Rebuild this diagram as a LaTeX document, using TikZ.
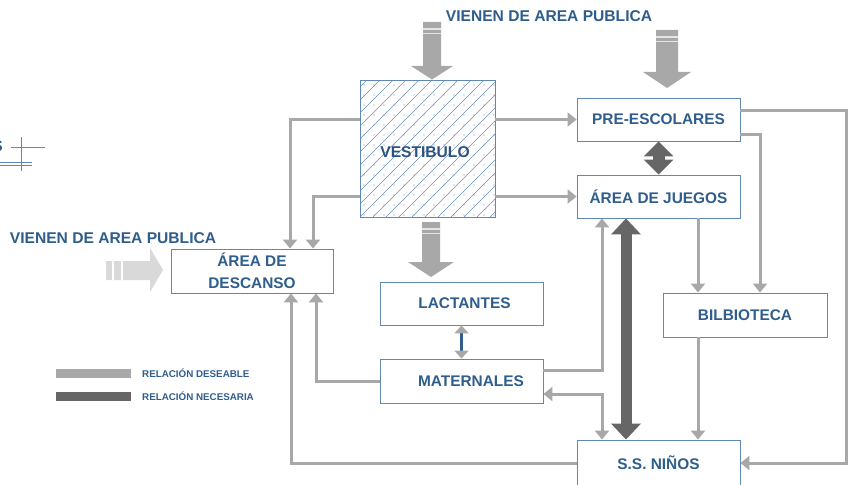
\documentclass[tikz,border=0pt]{standalone}
\usepackage{fontspec}
\setmainfont{Liberation Sans}
\usetikzlibrary{arrows.meta,calc}
\definecolor{txt}{HTML}{2F5D8C}
\definecolor{txtd}{HTML}{2A5380}
\definecolor{bord}{HTML}{6088B2}
\definecolor{hatch}{HTML}{6E90B8}
\definecolor{lg}{HTML}{A8A8A8}
\definecolor{dk}{HTML}{666666}
\definecolor{vlg}{HTML}{D9D9D9}
\begin{document}
\begin{tikzpicture}[x=1pt,y=-1pt,
  box/.style={draw=bord,line width=0.9pt,fill=white,minimum width=163pt,minimum height=43pt,inner sep=0pt,
    font=\fontsize{15.4}{22}\bfseries\selectfont,text=txt,align=center},
  lbl/.style={font=\fontsize{15.6}{18}\bfseries\selectfont,text=txt,inner sep=0pt},
  small/.style={font=\fontsize{9.8}{11}\bfseries\selectfont,text=txt,inner sep=0pt,anchor=west},
  conn/.style={draw=lg,line width=3pt,-{Triangle[width=14pt,length=9pt]}},
  conn2/.style={draw=lg,line width=3pt,{Triangle[width=14pt,length=9pt]}-{Triangle[width=14pt,length=9pt]}},
  blk/.style={fill=lg,draw=none},
  stripe/.style={draw=white,line width=1.2pt,opacity=0.7}]
\useasboundingbox (0,0) rectangle (853,484);
\fill[white] (0,0) rectangle (853,484);

% top-left fragment
\node[lbl,anchor=east] (sfrag) at (3,146) {S};
\draw[bord,line width=1pt] (21,137) -- (21,171);
\draw[bord,line width=1pt] (11,147) -- (45,147);
\draw[bord,line width=1pt] (0,162) -- (32,162);
\draw[bord,line width=1pt] (0,165.5) -- (32,165.5);

% titles
\node[lbl] (t1) at (549,16) {VIENEN DE AREA PUBLICA};
\node[lbl] (t2) at (113,238) {VIENEN DE AREA PUBLICA};

% block arrows
\fill[blk] (423,22) -- (441,22) -- (441,66) -- (453,66) -- (432,79.5) -- (411,66) -- (423,66) -- cycle;
\draw[stripe] (423,29) -- (441,29);
\draw[stripe] (423,33.5) -- (441,33.5);
\fill[blk] (656,30) -- (678,30) -- (678,72) -- (691,72) -- (667,88) -- (643,72) -- (656,72) -- cycle;
\draw[stripe] (656,37) -- (678,37);
\draw[stripe] (656,41.5) -- (678,41.5);
\fill[blk] (422,222) -- (440,222) -- (440,262) -- (454,262) -- (431,277) -- (408,262) -- (422,262) -- cycle;
\draw[stripe] (422,229) -- (440,229);
\draw[stripe] (422,233.5) -- (440,233.5);
\fill[vlg] (106,261) -- (150,261) -- (150,248) -- (163,270) -- (150,292) -- (150,280) -- (106,280) -- cycle;
\draw[stripe,opacity=1] (113,261) -- (113,280);
\draw[stripe,opacity=1] (122,261) -- (122,280);

% vestibulo hatch
\begin{scope}
\clip (360,80) rectangle (495,217);
\foreach \i in {-12,...,12} \draw[hatch,line width=0.5pt] (360+\i*13,217) -- ++(137,-137);
\foreach \a in {0,...,13} \foreach \b in {0,...,13} \fill[hatch] (364+\a*10,85+\b*10) circle (0.6pt);
\end{scope}
\node[draw=bord,line width=0.9pt,minimum width=135pt,minimum height=137pt,inner sep=0pt] (vest) at (427.5,148.5) {};
\node[lbl,text=txtd] (vestl) at (425,152) {VESTIBULO};

% boxes
\node[box] (pre) at (658.5,119.5) {PRE-ESCOLARES};
\node[box] (jue) at (658.5,196.5) {ÁREA DE JUEGOS};
\node[box,minimum width=162pt,minimum height=44pt] (desc) at (252,271) {ÁREA DE\\DESCANSO};
\node[box] (lac) at (461.5,303.5) {\hspace*{6pt}LACTANTES};
\node[box,minimum height=44pt] (mat) at (461.5,381) {\hspace*{19pt}MATERNALES};
\node[box,minimum width=164pt,minimum height=44pt] (bib) at (745,315) {BILBIOTECA};
\node[box,minimum height=46pt] (ninos) at (658.5,463) {S.S. NIÑOS};
\coordinate (rr) at (846,0);

% desirable relations
\draw[conn] (vest.west |- pre) -| ([xshift=38pt]desc.north);
\draw[conn] (vest.west |- jue) -| ([xshift=61pt]desc.north);
\draw[conn] (vest.east |- pre) -- (pre.west);
\draw[conn] (vest.east |- jue) -- (jue.west);
\draw[conn] (mat.west) -| ([xshift=64pt]desc.south);
\draw[conn] (ninos.west) -| ([xshift=39pt]desc.south);
\draw[conn] ([yshift=11pt]mat.east) -| ([xshift=-56.5pt]jue.south);
\draw[conn2] ([yshift=-13pt]mat.east) -| ([xshift=-56.5pt]ninos.north);
\draw[conn] ([xshift=39.5pt]jue.south) -- ([xshift=39.5pt]jue.south |- bib.north);
\draw[conn] ([yshift=-14.5pt]pre.east) -| ([xshift=15pt]bib.north);
\draw[conn] ([yshift=8.5pt]pre.east) -| (rr |- ninos.east) -- (ninos.east);
\draw[conn] ([xshift=-47pt]bib.south) -- ([xshift=-47pt]bib.south |- ninos.north);

% necessary relations
\draw[dk,line width=12pt,{Triangle[width=29pt,length=15pt]}-{Triangle[width=29pt,length=15pt]}] (pre.south) -- (jue.north);
\draw[dk,line width=11pt,{Triangle[width=29pt,length=16pt]}-{Triangle[width=29pt,length=16pt]}] ([xshift=-32.5pt]jue.south) -- ([xshift=-32.5pt]jue.south |- ninos.north);
\draw[txt,line width=3pt,{Triangle[width=14pt,length=8pt,color=lg]}-{Triangle[width=14pt,length=8pt,color=lg]}] (lac.south) -- (mat.north);

% legend
\node[fill=lg,minimum width=75pt,minimum height=8.5pt,inner sep=0pt] (lg1) at (93.5,373.5) {};
\node[fill=dk,minimum width=75pt,minimum height=8.5pt,inner sep=0pt] (lg2) at (93.5,396.5) {};
\node[small] (lt1) at (142,373.5) {RELACIÓN DESEABLE};
\node[small] (lt2) at (142,396.5) {RELACIÓN NECESARIA};
\end{tikzpicture}
\end{document}
